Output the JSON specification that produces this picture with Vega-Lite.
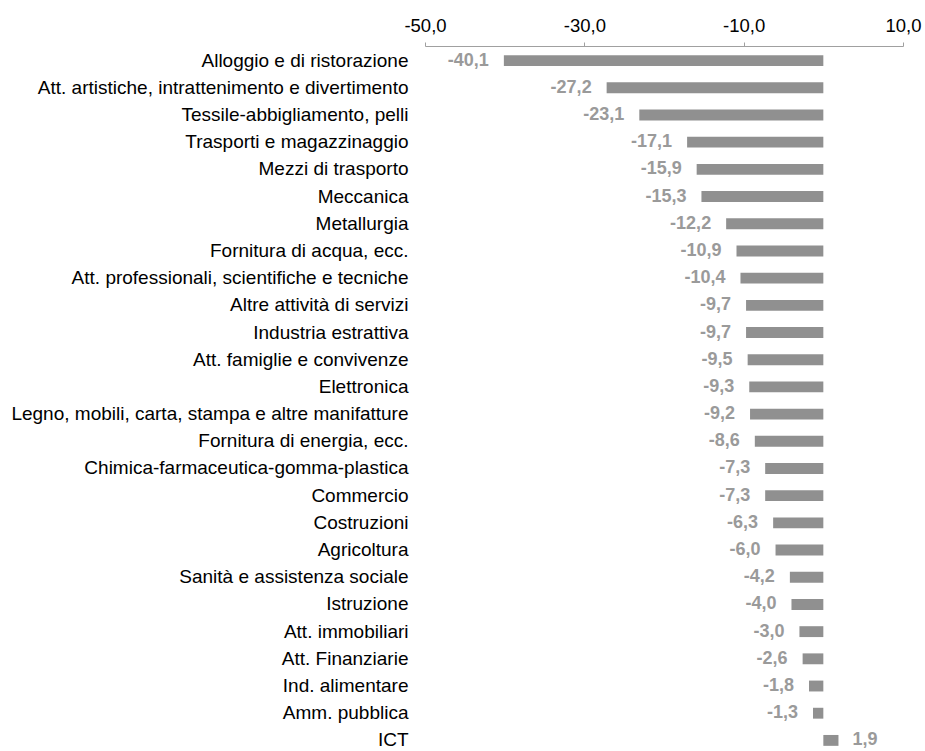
{
  "$schema": "https://vega.github.io/schema/vega-lite/v6.json",
  "width": 478,
  "height": 707,
  "autosize": {"type": "none"},
  "padding": {"left": 425, "top": 47, "right": 22, "bottom": 0},
  "background": "white",
  "config": {
    "view": {"stroke": null},
    "font": "Liberation Sans",
    "locale": {"number": {"decimal": ",", "thousands": ".", "grouping": [3], "currency": ["€", ""], "minus": "-"}}
  },
  "data": {
    "values": [
      {"settore": "Alloggio e di ristorazione", "valore": -40.1},
      {"settore": "Att. artistiche, intrattenimento e divertimento", "valore": -27.2},
      {"settore": "Tessile-abbigliamento, pelli", "valore": -23.1},
      {"settore": "Trasporti e magazzinaggio", "valore": -17.1},
      {"settore": "Mezzi di trasporto", "valore": -15.9},
      {"settore": "Meccanica", "valore": -15.3},
      {"settore": "Metallurgia", "valore": -12.2},
      {"settore": "Fornitura di acqua, ecc.", "valore": -10.9},
      {"settore": "Att. professionali, scientifiche e tecniche", "valore": -10.4},
      {"settore": "Altre attività di servizi", "valore": -9.7},
      {"settore": "Industria estrattiva", "valore": -9.7},
      {"settore": "Att. famiglie e convivenze", "valore": -9.5},
      {"settore": "Elettronica", "valore": -9.3},
      {"settore": "Legno, mobili, carta, stampa e altre manifatture", "valore": -9.2},
      {"settore": "Fornitura di energia, ecc.", "valore": -8.6},
      {"settore": "Chimica-farmaceutica-gomma-plastica", "valore": -7.3},
      {"settore": "Commercio", "valore": -7.3},
      {"settore": "Costruzioni", "valore": -6.3},
      {"settore": "Agricoltura", "valore": -6.0},
      {"settore": "Sanità e assistenza sociale", "valore": -4.2},
      {"settore": "Istruzione", "valore": -4.0},
      {"settore": "Att. immobiliari", "valore": -3.0},
      {"settore": "Att. Finanziarie", "valore": -2.6},
      {"settore": "Ind. alimentare", "valore": -1.8},
      {"settore": "Amm. pubblica", "valore": -1.3},
      {"settore": "ICT", "valore": 1.9}
    ]
  },
  "encoding": {
    "y": {
      "field": "settore",
      "type": "nominal",
      "sort": null,
      "title": null,
      "scale": {"paddingInner": 0.6, "paddingOuter": 0.3},
      "axis": {"domain": false, "ticks": false, "labelPadding": 17, "labelFontSize": 19, "labelColor": "#000000", "labelLimit": 425, "grid": false}
    }
  },
  "layer": [
    {
      "mark": {"type": "bar", "color": "#909090"},
      "encoding": {
        "x": {
          "field": "valore",
          "type": "quantitative",
          "title": null,
          "scale": {"domain": [-50, 10], "nice": false, "zero": false},
          "axis": {
            "orient": "top",
            "values": [-50, -30, -10, 10],
            "format": ".1f",
            "grid": false,
            "offset": 1,
            "labelFlush": false,
            "domainColor": "#a0a0a0",
            "tickColor": "#a0a0a0",
            "tickSize": 4,
            "labelFontSize": 18.5,
            "labelColor": "#000000",
            "labelPadding": 7
          }
        }
      }
    },
    {
      "mark": {"type": "rule", "color": "#8a8a8a", "strokeWidth": 1.5, "y": 0, "y2": {"expr": "height+5"}},
      "encoding": {"x": {"datum": 0, "type": "quantitative"}}
    },
    {
      "transform": [{"filter": "datum.valore < 0"}],
      "mark": {"type": "text", "align": "right", "dx": -15, "fontWeight": "bold", "fontSize": 18, "color": "#9a9a9a"},
      "encoding": {
        "x": {"field": "valore", "type": "quantitative"},
        "text": {"field": "valore", "type": "quantitative", "format": ".1f"}
      }
    },
    {
      "transform": [{"filter": "datum.valore >= 0"}],
      "mark": {"type": "text", "align": "left", "dx": 14, "fontWeight": "bold", "fontSize": 18, "color": "#9a9a9a"},
      "encoding": {
        "x": {"field": "valore", "type": "quantitative"},
        "text": {"field": "valore", "type": "quantitative", "format": ".1f"}
      }
    }
  ]
}
